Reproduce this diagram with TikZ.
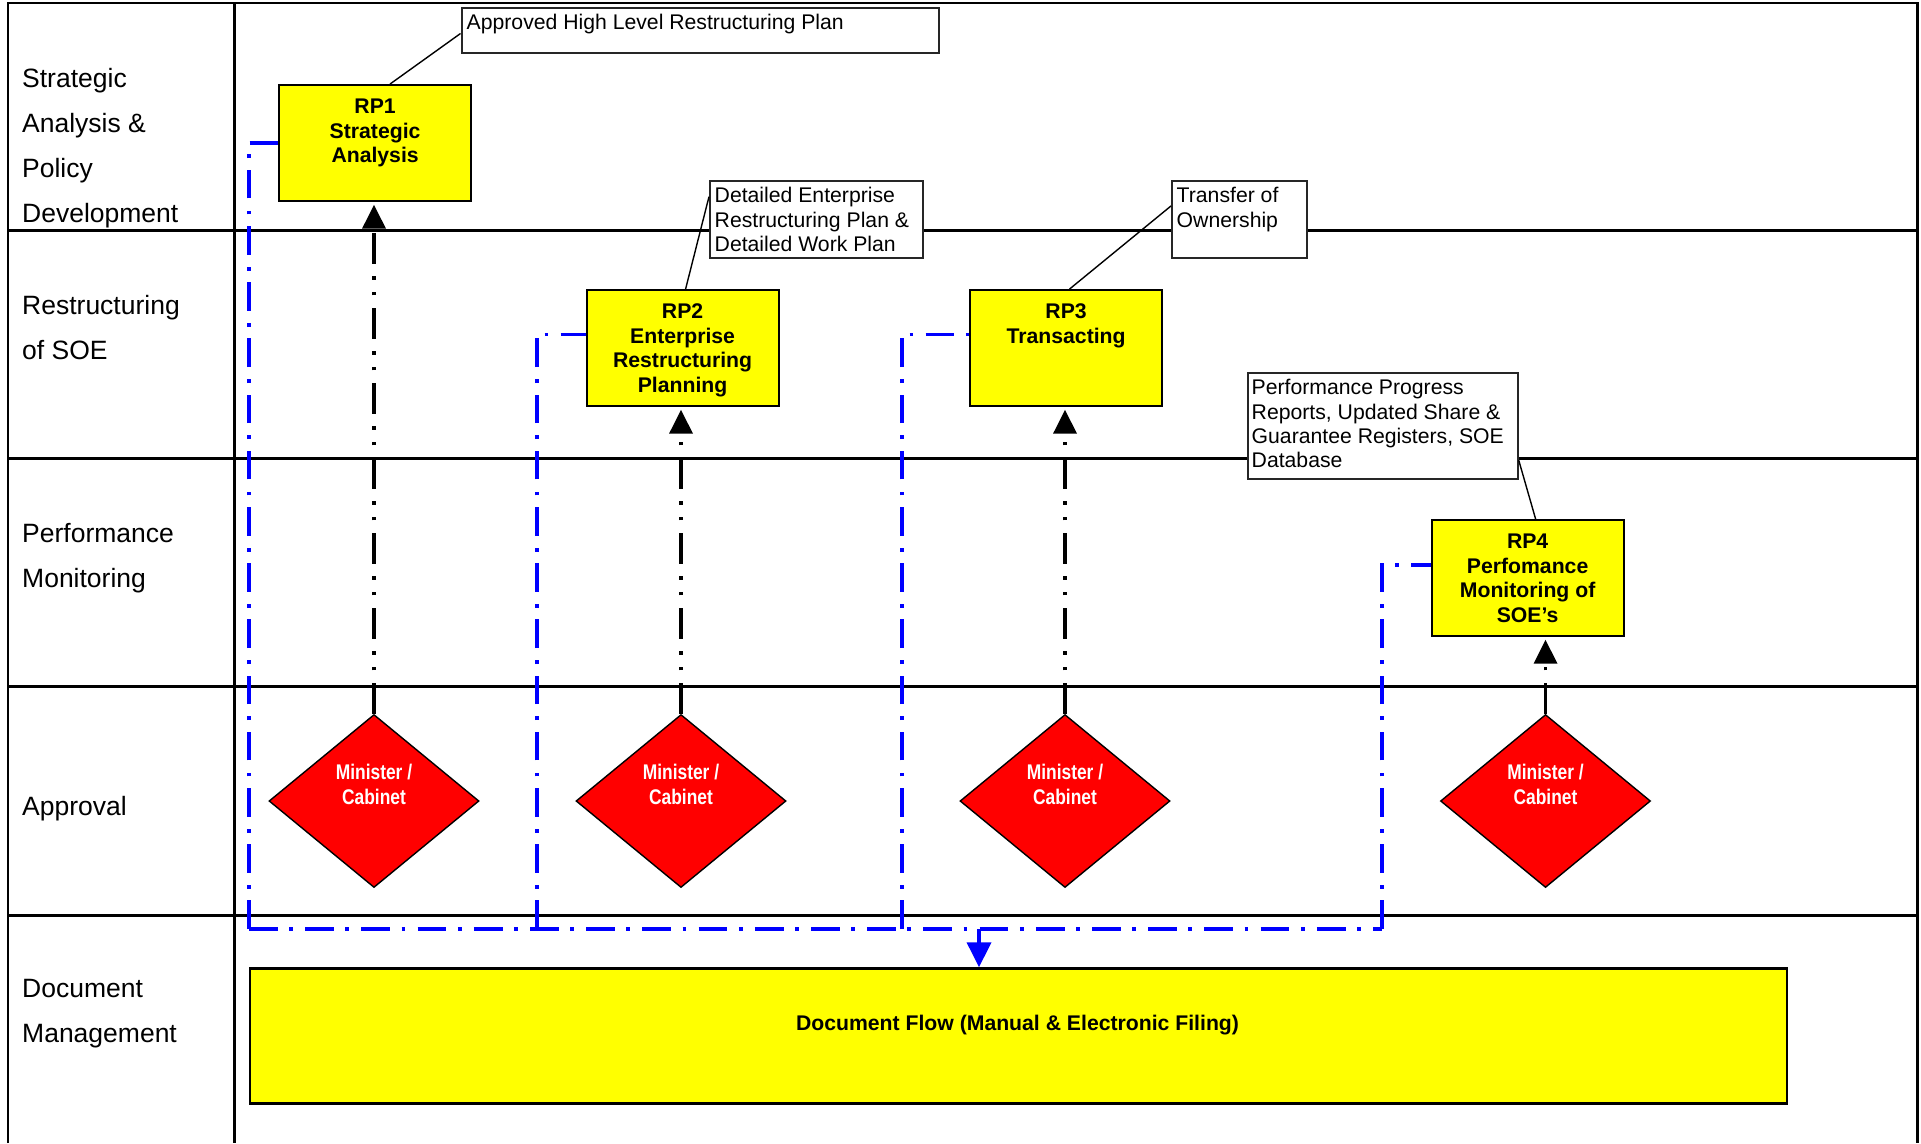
\documentclass[tikz,border=0pt]{standalone}
\usepackage{fontspec}
\setmainfont{Liberation Sans}
\newfontfamily\narrowsans[FakeStretch=0.82]{Liberation Sans}
\usetikzlibrary{arrows.meta,shapes.geometric,calc}

\definecolor{boxyellow}{RGB}{255,255,0}
\definecolor{decisionred}{RGB}{255,0,0}
\definecolor{flowblue}{RGB}{0,0,255}

\tikzset{
  frameline/.style={line width=2.3pt, black},
  lanelabel/.style={anchor=north west, inner sep=0pt, align=left, font=\fontsize{26.5}{44.7}\selectfont},
  rpbox/.style={draw=black, line width=2.2pt, fill=boxyellow, anchor=north west,
    minimum width=192pt, minimum height=115.5pt, inner sep=0pt},
  rptext/.style={anchor=north, inner sep=0pt, align=center, font=\bfseries\fontsize{21.2}{24.6}\selectfont},
  calloutbox/.style={draw=black!85, line width=2pt, fill=white, anchor=north west, inner sep=0pt},
  callouttext/.style={anchor=north west, inner sep=0pt, align=left, font=\fontsize{21.2}{24.2}\selectfont},
  calloutline/.style={line width=1.4pt, black},
  minister/.style={diamond, draw=black, line width=1.4pt, fill=decisionred,
    minimum width=210pt, minimum height=173pt, inner sep=0pt},
  ministertext/.style={inner sep=0pt, align=center, text=white,
    font=\narrowsans\bfseries\fontsize{21.2}{25}\selectfont},
  approval/.style={line width=3.6pt,
    dash pattern=on 31pt off 12.5pt on 3.5pt off 12pt on 3.5pt off 12.5pt,
    -{Triangle[length=24pt,width=23pt]}, shorten >=3pt},
  flowline/.style={line width=3.6pt, flowblue,
    dash pattern=on 28.7pt off 11.5pt on 3.8pt off 12.2pt},
  flowarrow/.style={line width=3.6pt, flowblue, -{Triangle[length=25pt,width=24pt]}},
  docbox/.style={draw=black, line width=2.2pt, fill=boxyellow, anchor=north west,
    minimum width=1537pt, minimum height=135pt, inner sep=0pt},
  doctext/.style={anchor=base, inner sep=0pt, font=\bfseries\fontsize{21.2}{24.6}\selectfont},
}

\begin{document}
\begin{tikzpicture}[x=1pt, y=-1pt]
\useasboundingbox (0,0) rectangle (1921,1143);

% swimlane frame
\draw[frameline] (8,1143) -- (8,3) -- (1917.5,3) -- (1917.5,1143);
\draw[frameline] (234.5,3) -- (234.5,1143);
\foreach \ly in {230.5,458.5,686.5,915.5}
  \draw[frameline] (8,\ly) -- (1917.5,\ly);

% lane titles
\node[lanelabel] (laneA) at (22,68.5) {Strategic\\Analysis \&\\Policy\\Development};
\node[lanelabel] (laneB) at (22,295.5) {Restructuring\\of SOE};
\node[lanelabel] (laneC) at (22,523.5) {Performance\\Monitoring};
\node[lanelabel] (laneD) at (22,796.5) {Approval};
\node[lanelabel] (laneE) at (22,979.5) {Document\\Management};

% process boxes
\node[rpbox] (rp1) at (278,84) {};
\node[rpbox] (rp2) at (585.5,289) {};
\node[rpbox] (rp3) at (969,289) {};
\node[rpbox] (rp4) at (1430.5,519) {};

% document store
\node[docbox] (doc) at (249,967.3) {};
\node[doctext] (doct) at (1017.5,1030.6) {Document Flow (Manual \& Electronic Filing)};

% document flow (blue)
\coordinate (j1) at (249,929);
\coordinate (j2) at (537,929);
\coordinate (j3) at (902,929);
\coordinate (j4) at (1382,929);
\coordinate (ja) at (979,929);
\draw[flowline] (j1) |- (rp1.west);
\draw[flowline] (j2) |- ([yshift=13.5pt]rp2.west);
\draw[flowline] (j3) |- ([yshift=13.5pt]rp3.west);
\draw[flowline] (j4) |- ([yshift=13pt]rp4.west);
\draw[flowline] (j1) -- (j4);
\draw[flowarrow] (ja) -- (ja |- doc.north);

% outputs
\node[calloutbox, minimum width=477pt, minimum height=44.4pt] (cb1) at (460.5,7.3) {};
\node[callouttext] (cb1t) at (466.5,14) {Approved High Level Restructuring Plan};
\node[calloutbox, minimum width=212.5pt, minimum height=77.3pt] (cb2) at (709,180) {};
\node[callouttext] (cb2t) at (714.5,187.4) {Detailed Enterprise\\Restructuring Plan \&\\Detailed Work Plan};
\node[calloutbox, minimum width=134.6pt, minimum height=77.3pt] (cb3) at (1171,180) {};
\node[callouttext] (cb3t) at (1176.5,187.4) {Transfer of\\Ownership};
\node[calloutbox, minimum width=270.2pt, minimum height=106.3pt] (cb4) at (1246.5,372) {};
\node[callouttext] (cb4t) at (1251.5,379.4) {Performance Progress\\Reports, Updated Share \&\\Guarantee Registers, SOE\\Database};

\draw[calloutline] ([xshift=15pt]rp1.north) -- ([yshift=-3pt]cb1.west);
\draw[calloutline] ([xshift=3pt]rp2.north) -- ([yshift=23pt]cb2.west);
\draw[calloutline] ([xshift=3.5pt]rp3.north) -- ([yshift=13.7pt]cb3.west);
\draw[calloutline] ([yshift=-34pt]cb4.east) -- ([xshift=8pt]rp4.north);

% process box texts
\node[rptext] (rp1t) at ([yshift=-15pt]rp1.north) {RP1\\Strategic\\Analysis};
\node[rptext] (rp2t) at ([yshift=-14.5pt]rp2.north) {RP2\\Enterprise\\Restructuring\\Planning};
\node[rptext] (rp3t) at ([yshift=-14.5pt]rp3.north) {RP3\\Transacting};
\node[rptext] (rp4t) at ([yshift=-15pt]rp4.north) {RP4\\Perfomance\\Monitoring of\\SOE’s};

% approvals
\node[minister] (m1) at (374,801) {};
\node[minister] (m2) at (681,801) {};
\node[minister] (m3) at (1065,801) {};
\node[minister] (m4) at (1545.5,801) {};
\node[ministertext] (m1t) at (374,784.2) {Minister /\\Cabinet};
\node[ministertext] (m2t) at (681,784.2) {Minister /\\Cabinet};
\node[ministertext] (m3t) at (1065,784.2) {Minister /\\Cabinet};
\node[ministertext] (m4t) at (1545.5,784.2) {Minister /\\Cabinet};

\draw[approval] (m1.north) -- (m1.north |- rp1.south);
\draw[approval] (m2.north) -- (m2.north |- rp2.south);
\draw[approval] (m3.north) -- (m3.north |- rp3.south);
\draw[approval] (m4.north) -- (m4.north |- rp4.south);
\end{tikzpicture}
\end{document}
